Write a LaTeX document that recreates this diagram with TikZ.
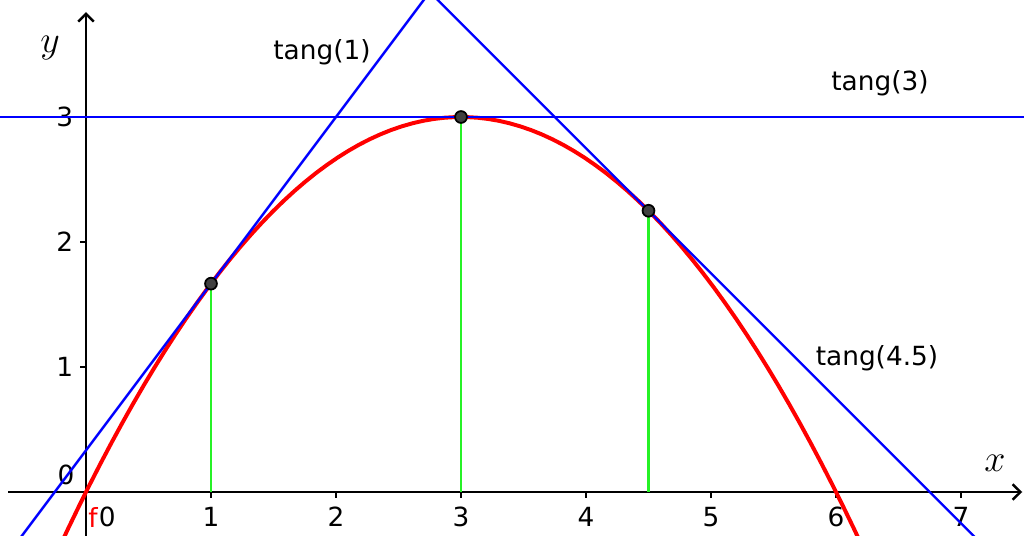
\documentclass[tikz,border=0pt]{standalone}
\usepackage{amsmath,amssymb}
\usepackage{fontspec}
\setmainfont{DejaVu Sans}
\usetikzlibrary{arrows.meta}
\definecolor{ggblue}{rgb}{0,0,1}
\definecolor{ggred}{rgb}{1,0,0}
\definecolor{gggreen}{rgb}{0.15,0.95,0.15}
\definecolor{ggpoint}{gray}{0.25}

\begin{document}
\begin{tikzpicture}[x=2cm, y=2cm, font=\fontsize{12}{14}\selectfont]
  \useasboundingbox (-0.688,-0.352) rectangle (7.504,3.936);
  % axes
  \draw[line width=1.1pt, -{Straight Barb[length=3.6pt, width=7pt]}] (-0.624,0) -- (7.49,0);
  \draw[line width=1.1pt, -{Straight Barb[length=3.6pt, width=7pt]}] (0,-0.36) -- (0,3.84);
  \foreach \i in {1,...,7} {
    \draw[line width=1pt] (\i,0) -- (\i,-0.05);
    \node (xl\i) at (\i,-0.2) {\i};
  }
  \foreach \i in {1,2,3} {
    \draw[line width=1pt] (0,\i) -- (-0.05,\i);
    \node (yl\i) at (-0.17,\i) {\i};
  }
  \node (xl0) at (0.17,-0.2) {0};
  \node (yl0) at (-0.16,0.136) {0};
  \node[text=ggred] (fname) at (0.056,-0.2) {f};
  \node (xname) at (7.272,0.232) {\LARGE$x$};
  \node (yname) at (-0.288,3.552) {\LARGE$y$};
  % points on the curve
  \coordinate (P1) at (1,5/3);
  \coordinate (P3) at (3,3);
  \coordinate (P45) at (4.5,2.25);
  \coordinate (Q1) at (1,0);
  \coordinate (Q3) at (3,0);
  \coordinate (Q45) at (4.5,0);
  \draw[gggreen, line width=1.1pt] (Q1) -- (P1) (Q3) -- (P3) (Q45) -- (P45);
  \begin{scope}
    \clip (-0.688,-0.352) rectangle (7.504,3.936);
    \draw[ggred, line width=1.8pt, domain=-0.4:6.4, samples=80] plot (\x, {2*\x - \x*\x/3});
    \draw[ggblue, line width=1.1pt] (-0.7,3) -- (7.6,3);
    \draw[ggblue, line width=1.1pt] (-0.6,-0.4667) -- (2.8,4.0667);
    \draw[ggblue, line width=1.1pt] (2.7,4.05) -- (7.2,-0.45);
  \end{scope}
  \foreach \p in {P1,P3,P45}
    \filldraw[fill=ggpoint, draw=black, line width=0.8pt] (\p) circle (2.7pt);
  \node (t1) at (1.888,3.52) {tang(1)};
  \node (t3) at (6.352,3.272) {tang(3)};
  \node (t45) at (6.328,1.072) {tang(4.5)};
\end{tikzpicture}
\end{document}
